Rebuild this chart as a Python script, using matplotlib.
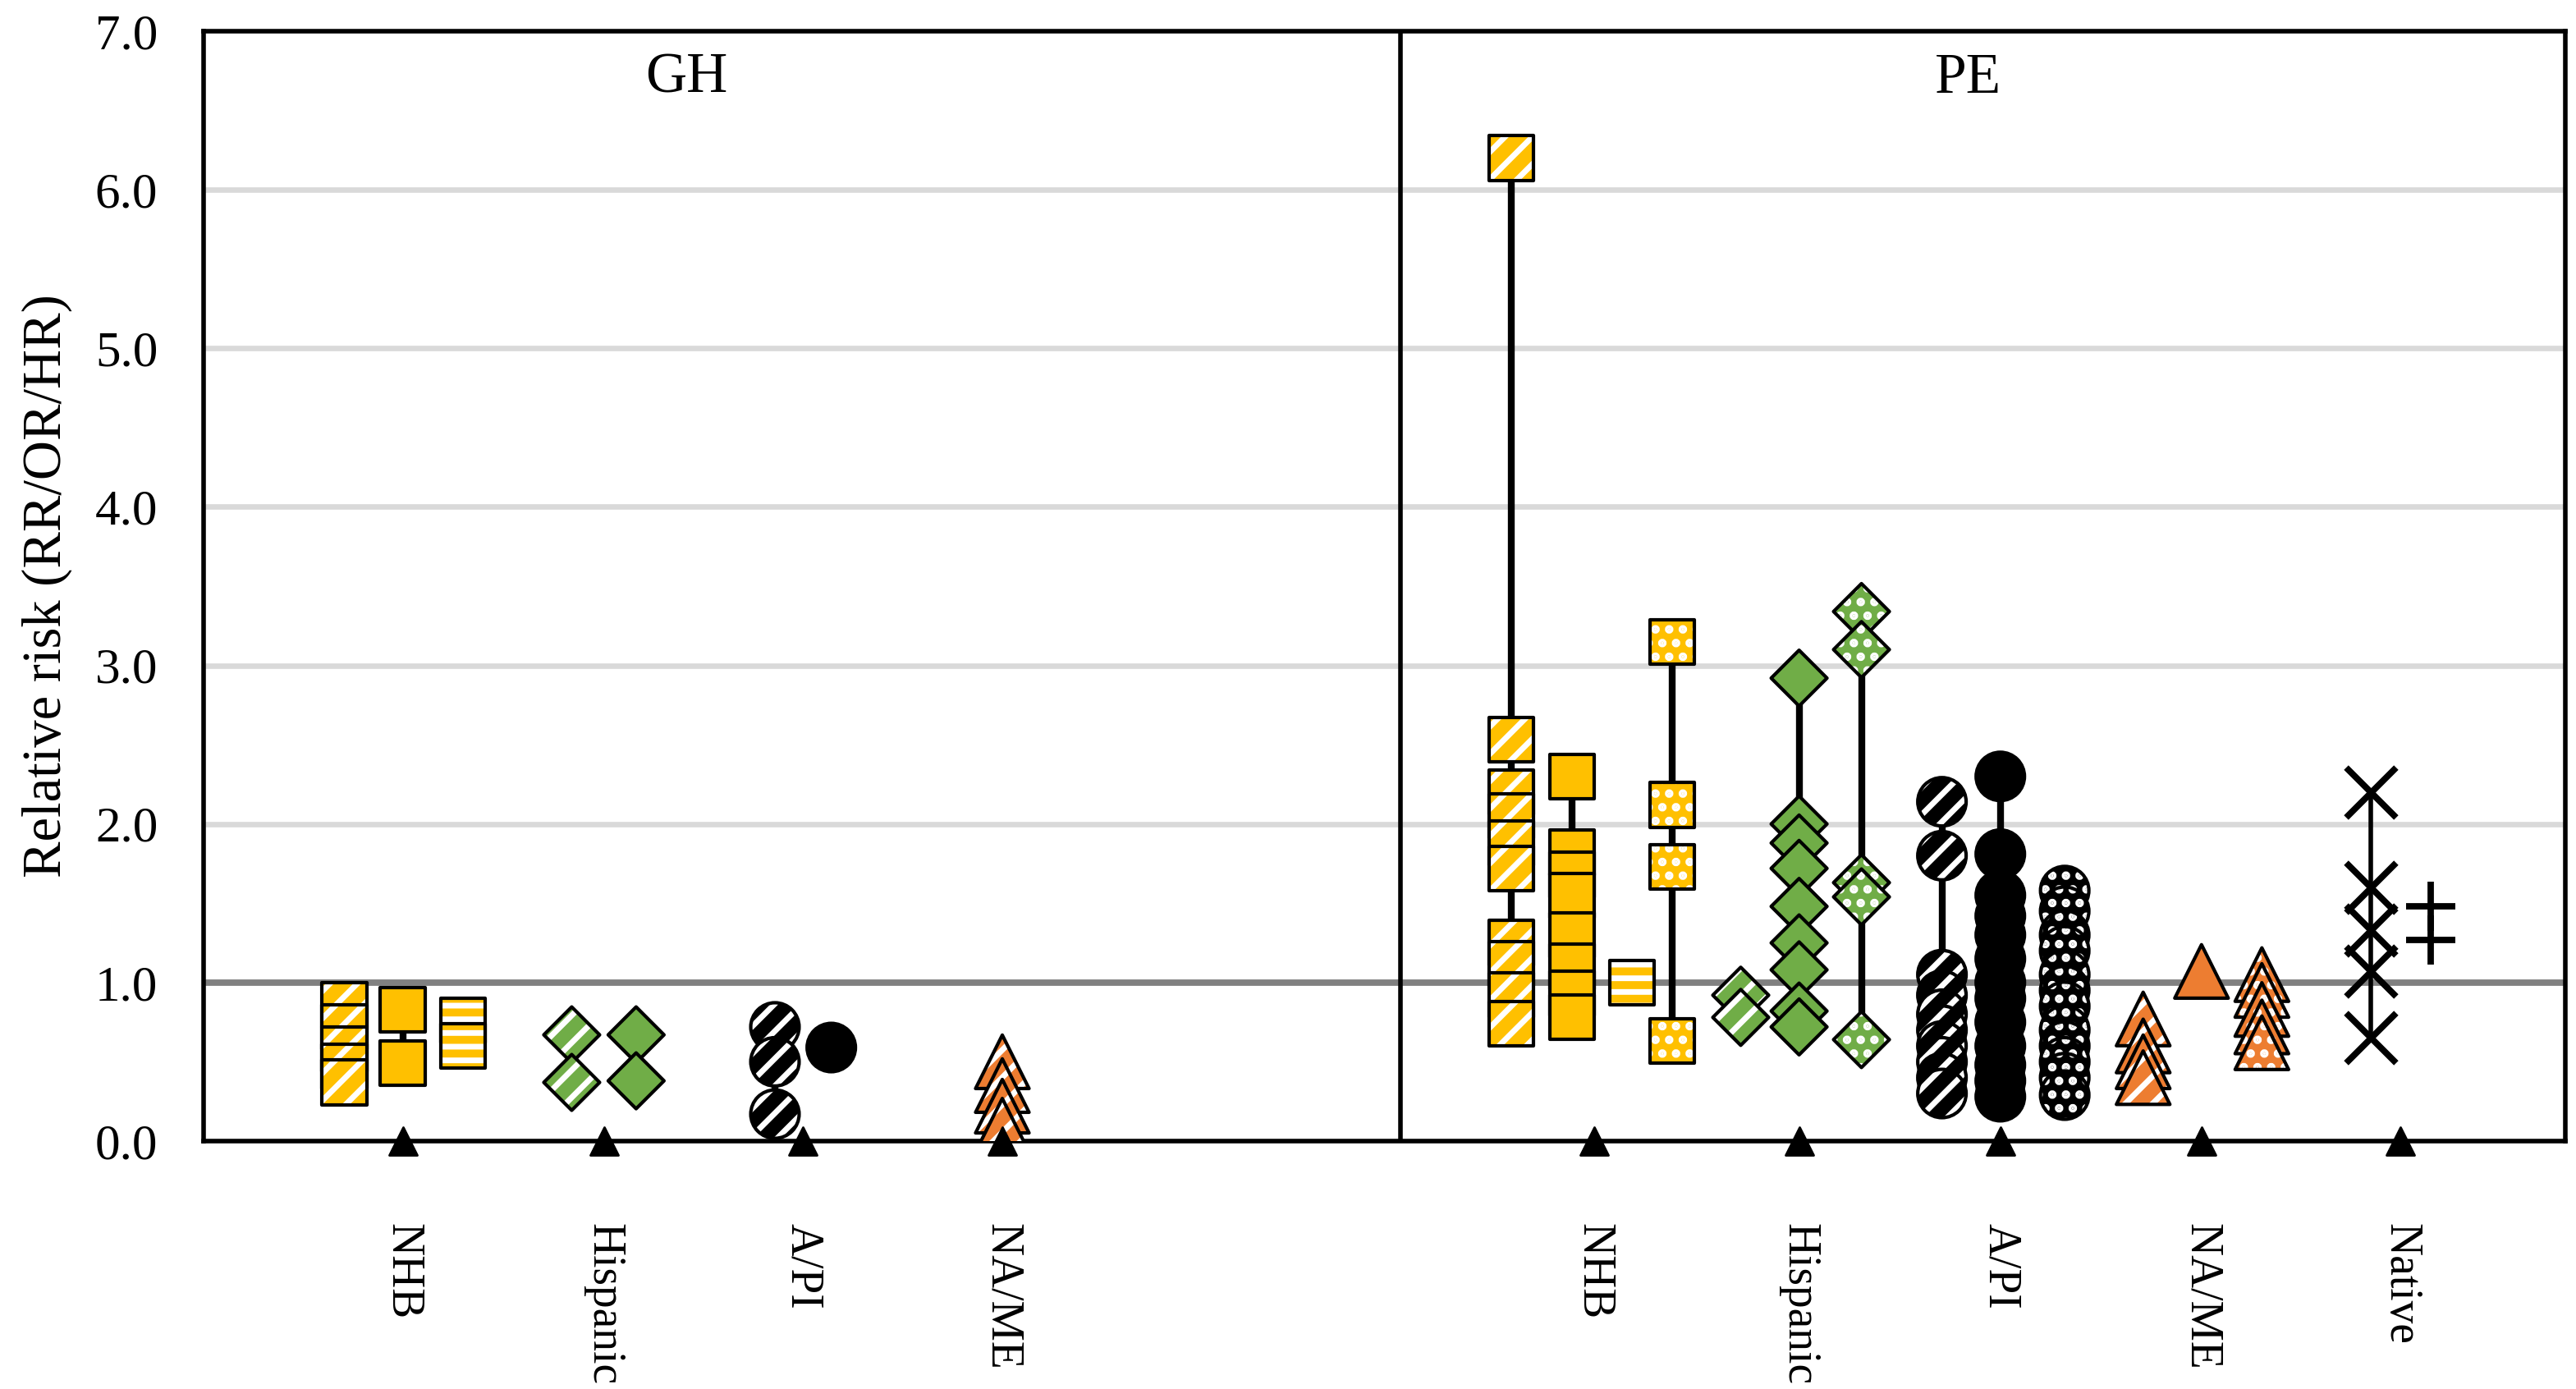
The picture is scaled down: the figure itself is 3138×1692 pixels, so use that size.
import matplotlib
matplotlib.use("Agg")
import matplotlib.pyplot as plt

plt.rcParams["font.family"] = ["Liberation Serif", "DejaVu Serif"]
plt.rcParams["hatch.linewidth"] = 2.5

# categories / ticks
gh_groups = ["NHB", "Hispanic", "A/PI", "NA/ME"]
pe_groups = ["NHB", "Hispanic", "A/PI", "NA/ME", "Native"]
y_ticks = [0, 1, 2, 3, 4, 5, 6, 7]
panel_titles = ["GH", "PE"]

# relative risk values, one list per study series
gh_nhb_hatch = [0.86, 0.72, 0.58, 0.47, 0.37]
gh_nhb_solid = [0.83, 0.49]
gh_nhb_stripe = [0.76, 0.60]
gh_hisp_hatch = [0.67, 0.37]
gh_hisp_solid = [0.67, 0.38]
gh_api_hatch = [0.72, 0.50, 0.17]
gh_api_solid = [0.59]
gh_name_hatch = [0.50, 0.35, 0.22, 0.10]

pe_nhb_hatch = [6.20, 2.53, 2.20, 2.05, 1.88, 1.72, 1.25, 1.12, 0.92, 0.74]
pe_nhb_solid = [2.30, 1.82, 1.68, 1.55, 1.30, 1.10, 0.93, 0.78]
pe_nhb_stripe = [1.00]
pe_nhb_dot = [3.15, 2.12, 1.73, 0.63]
pe_hisp_hatch = [0.92, 0.78]
pe_hisp_solid = [2.92, 2.00, 1.88, 1.72, 1.48, 1.25, 1.08, 0.82, 0.72]
pe_hisp_dot = [3.34, 3.10, 1.63, 1.54, 0.64]
pe_api_hatch = [2.14, 1.80, 1.05, 0.92, 0.80, 0.70, 0.60, 0.50, 0.40, 0.30]
pe_api_solid = [2.30, 1.81, 1.55, 1.42, 1.30, 1.15, 1.00, 0.90, 0.75, 0.60, 0.48, 0.38, 0.28]
pe_api_dot = [1.58, 1.45, 1.30, 1.20, 1.05, 0.95, 0.85, 0.70, 0.60, 0.50, 0.40, 0.29]
pe_name_hatch = [0.77, 0.60, 0.50, 0.40]
pe_name_solid = [1.07]
pe_name_dot = [1.05, 0.95, 0.83, 0.72, 0.62]
pe_native_x = [2.20, 1.60, 1.33, 1.07, 0.65]
pe_native_plus = [1.48, 1.27]

# layout: category centres on the x axis and offsets of each series
gh_pos = [0.99, 1.99, 2.98, 3.97]
pe_pos = [6.91, 7.93, 8.93, 9.93, 10.92]
divider_x = 5.95

YEL, GRN, BLK, ORG = "#FFC000", "#70AD47", "#000000", "#ED7D31"
styles = {
    "y_hatch": ("s", YEL, "//", 380), "y_solid": ("s", YEL, None, 380),
    "y_stripe": ("s", YEL, "--", 380), "y_dot": ("s", YEL, "..", 380),
    "g_hatch": ("D", GRN, "//", 300), "g_solid": ("D", GRN, None, 300),
    "g_dot": ("D", GRN, "..", 300),
    "k_hatch": ("o", BLK, "//", 450), "k_solid": ("o", BLK, None, 450),
    "k_dot": ("o", BLK, "..", 450),
    "o_hatch": ("^", ORG, "//", 550), "o_solid": ("^", ORG, None, 550),
    "o_dot": ("^", ORG, "..", 550),
    "x": ("x", BLK, None, 480), "plus": ("+", BLK, None, 480),
}

series = [
    (gh_nhb_hatch, gh_pos[0], -0.29, "y_hatch"),
    (gh_nhb_solid, gh_pos[0], 0.0, "y_solid"),
    (gh_nhb_stripe, gh_pos[0], 0.30, "y_stripe"),
    (gh_hisp_hatch, gh_pos[1], -0.16, "g_hatch"),
    (gh_hisp_solid, gh_pos[1], 0.16, "g_solid"),
    (gh_api_hatch, gh_pos[2], -0.14, "k_hatch"),
    (gh_api_solid, gh_pos[2], 0.14, "k_solid"),
    (gh_name_hatch, gh_pos[3], 0.0, "o_hatch"),
    (pe_nhb_hatch, pe_pos[0], -0.41, "y_hatch"),
    (pe_nhb_solid, pe_pos[0], -0.11, "y_solid"),
    (pe_nhb_stripe, pe_pos[0], 0.19, "y_stripe"),
    (pe_nhb_dot, pe_pos[0], 0.39, "y_dot"),
    (pe_hisp_hatch, pe_pos[1], -0.29, "g_hatch"),
    (pe_hisp_solid, pe_pos[1], 0.0, "g_solid"),
    (pe_hisp_dot, pe_pos[1], 0.31, "g_dot"),
    (pe_api_hatch, pe_pos[2], -0.29, "k_hatch"),
    (pe_api_solid, pe_pos[2], 0.0, "k_solid"),
    (pe_api_dot, pe_pos[2], 0.32, "k_dot"),
    (pe_name_hatch, pe_pos[3], -0.29, "o_hatch"),
    (pe_name_solid, pe_pos[3], 0.0, "o_solid"),
    (pe_name_dot, pe_pos[3], 0.30, "o_dot"),
    (pe_native_x, pe_pos[4], -0.15, "x"),
    (pe_native_plus, pe_pos[4], 0.15, "plus"),
]

fig = plt.figure(figsize=(15.69, 8.46), dpi=200)
ax = fig.add_subplot(1, 1, 1)
fig.subplots_adjust(left=0.079, right=0.996, top=0.9775, bottom=0.1785)

# grid lines
for yv in y_ticks[2:-1]:
    ax.axhline(yv, color="#d9d9d9", lw=2.4, zorder=0)
ax.axhline(1.0, color="#808080", lw=2.8, zorder=1)
ax.axvline(divider_x, color="black", lw=2, zorder=1)

z = 3
for values, centre, off, key in series:
    marker, fc, hatch, size = styles[key]
    xv = centre + off
    if len(values) > 1:
        lw_line = 2 if key in ("x", "plus") else 3
        ax.plot([xv] * len(values), values, color="black", lw=lw_line, zorder=2)
    # lower points drawn last so they sit on top, as in the original
    for v in sorted(values, reverse=True):
        if marker in ("x", "+"):
            ax.scatter([xv], [v], marker=marker, s=size, color="black",
                       linewidths=2.8, zorder=z)
        else:
            ax.scatter([xv], [v], marker=marker, s=size, facecolors=fc,
                       edgecolors="white", linewidths=0, hatch=hatch, zorder=z)
            ax.scatter([xv], [v], marker=marker, s=size, facecolors="none",
                       edgecolors="black", linewidths=1.5, zorder=z)
        z += 0.001

# category markers on the x axis
all_pos = gh_pos + pe_pos
ax.scatter(all_pos, [0] * len(all_pos), marker="^", s=150, color="black",
           zorder=10, clip_on=False)

ax.set_xlim(0, 11.74)
ax.set_ylim(0, 7)
ax.set_yticks(y_ticks)
ax.set_yticklabels(["%.1f" % t for t in y_ticks], fontsize=22)
ax.set_xticks(all_pos)
ax.set_xticklabels(gh_groups + pe_groups, rotation=-90, fontsize=20,
                   va="top", ha="center")
ax.tick_params(axis="x", length=0, pad=36)
ax.tick_params(axis="y", length=0, pad=20)
ax.set_ylabel("Relative risk (RR/OR/HR)", fontsize=24, labelpad=10)

for sp in ax.spines.values():
    sp.set_linewidth(2)
    sp.set_color("black")

ax.text(2.4, 6.7, panel_titles[0], fontsize=25, ha="center", va="center")
ax.text(8.77, 6.7, panel_titles[1], fontsize=25, ha="center", va="center")

fig.savefig("out.png", dpi=200)
